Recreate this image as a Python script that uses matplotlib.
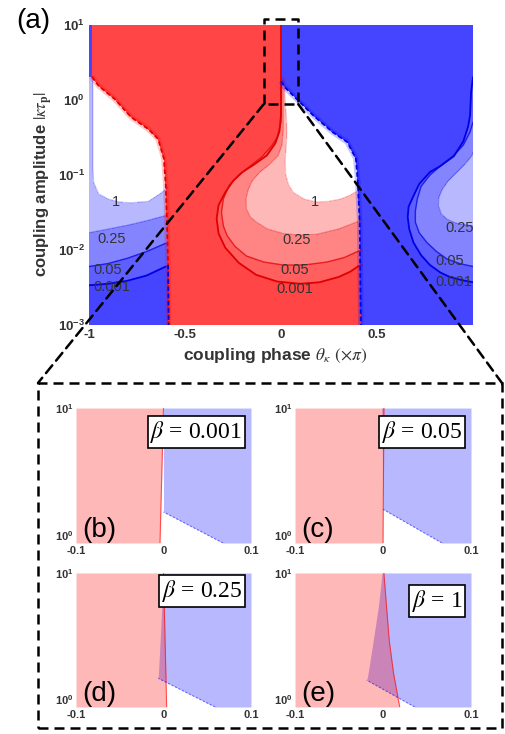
import numpy as np
import matplotlib
matplotlib.use("Agg")
import matplotlib.pyplot as plt
from matplotlib.path import Path
from matplotlib.colors import ListedColormap
from matplotlib.patches import ConnectionPatch, Rectangle

plt.rcParams["font.family"] = ["Liberation Sans", "DejaVu Sans"]
plt.rcParams["axes.unicode_minus"] = False
plt.rcParams["mathtext.fontset"] = "custom"
plt.rcParams["mathtext.rm"] = "Liberation Sans"
plt.rcParams["mathtext.it"] = "Liberation Sans:italic"
plt.rcParams["mathtext.bf"] = "Liberation Sans:bold"

# ---- data (x in units of pi, y given as log10 of coupling amplitude) ----
BETAS = ["0.001", "0.05", "0.25", "1"]

# red/blue domain borders
L_X = [-0.985, -0.95, -0.865, -0.78, -0.69, -0.64, -0.61, -0.60, -0.595, -0.588, -0.585]
L_LOG = [0.31, 0.19, 0.01, -0.23, -0.39, -0.52, -0.78, -1.14, -1.54, -2.2, -3.0]
B_X = [0.0, 0.02, 0.083, 0.17, 0.27, 0.345, 0.39, 0.40, 0.41, 0.416]
B_LOG = [0.25, 0.17, 0.01, -0.21, -0.43, -0.56, -0.78, -1.09, -1.63, -3.0]

# left (blue) pocket contours, one per beta
LEFT_X = [
    [-1.05, -1.0, -0.9, -0.8, -0.7, -0.6],
    [-1.05, -1.0, -0.9, -0.8, -0.7, -0.6],
    [-1.05, -1.0, -0.9, -0.8, -0.7, -0.6],
    [-0.98, -0.98, -0.975, -0.95, -0.9, -0.84, -0.78, -0.69, -0.63, -0.59],
]
LEFT_LOG = [
    [-2.47, -2.47, -2.45, -2.41, -2.34, -2.22],
    [-2.22, -2.22, -2.18, -2.11, -2.02, -1.91],
    [-1.78, -1.77, -1.72, -1.67, -1.61, -1.54],
    [0.31, -0.9, -1.1, -1.25, -1.32, -1.36, -1.37, -1.35, -1.25, -1.17],
]

# middle (red) pocket contours
MID_X = [
    [0.0, 0.0, -0.008, -0.03, -0.074, -0.14, -0.2, -0.25, -0.29, -0.325, -0.335, -0.325,
     -0.29, -0.22, -0.13, -0.02, 0.1, 0.2, 0.3, 0.36, 0.4, 0.42],
    [0.003, 0.0, -0.02, -0.048, -0.1, -0.16, -0.22, -0.27, -0.3, -0.31, -0.3, -0.28,
     -0.24, -0.18, -0.09, 0.012, 0.12, 0.24, 0.33, 0.39, 0.42],
    [0.012, 0.012, 0.005, -0.014, -0.06, -0.11, -0.15, -0.17, -0.182, -0.18, -0.16,
     -0.127, -0.07, 0.012, 0.1, 0.186, 0.3, 0.39, 0.42],
    [0.02, 0.02, 0.03, 0.03, 0.022, 0.025, 0.04, 0.064, 0.12, 0.186, 0.25, 0.31, 0.36,
     0.385, 0.42],
]
MID_LOG = [
    [1.0, -0.2, -0.42, -0.58, -0.74, -0.86, -0.96, -1.08, -1.23, -1.4, -1.58, -1.78,
     -1.97, -2.17, -2.33, -2.42, -2.45, -2.43, -2.36, -2.29, -2.22, -2.2],
    [0.3, -0.3, -0.5, -0.61, -0.76, -0.88, -1.0, -1.14, -1.32, -1.5, -1.68, -1.81,
     -1.95, -2.08, -2.16, -2.2, -2.2, -2.16, -2.1, -2.03, -2.0],
    [0.3, -0.39, -0.6, -0.74, -0.86, -0.96, -1.08, -1.19, -1.32, -1.45, -1.56, -1.63,
     -1.72, -1.78, -1.8, -1.79, -1.72, -1.63, -1.6],
    [0.3, 0.06, -0.3, -0.52, -0.8, -1.0, -1.13, -1.23, -1.32, -1.36, -1.35, -1.32,
     -1.27, -1.23, -1.2],
]

# right (blue) pocket contours (beta = 1 lies outside the plotted range)
RIGHT_X = [
    [1.0, 0.99, 0.985, 0.975, 0.95, 0.9, 0.83, 0.776, 0.72, 0.69, 0.665, 0.66, 0.668,
     0.69, 0.73, 0.776, 0.83, 0.88, 0.94, 1.0],
    [1.0, 0.984, 0.95, 0.9, 0.84, 0.776, 0.73, 0.71, 0.70, 0.70, 0.72, 0.76, 0.81,
     0.865, 0.93, 1.0],
    [1.0, 0.995, 0.96, 0.917, 0.87, 0.84, 0.822, 0.82, 0.835, 0.865, 0.91, 0.95, 1.0],
]
RIGHT_LOG = [
    [0.3, 0.1, -0.2, -0.35, -0.55, -0.75, -0.88, -0.96, -1.12, -1.28, -1.42, -1.56,
     -1.72, -1.9, -2.07, -2.2, -2.3, -2.36, -2.4, -2.43],
    [-0.3, -0.43, -0.6, -0.74, -0.86, -1.0, -1.15, -1.32, -1.48, -1.63, -1.77, -1.9,
     -2.02, -2.12, -2.18, -2.22],
    [-0.7, -0.74, -0.85, -0.96, -1.08, -1.19, -1.3, -1.41, -1.52, -1.59, -1.64, -1.66,
     -1.68],
]

LEFT_LABEL_X = [-0.88, -0.9, -0.88, -0.86]
LEFT_LABEL_LOG = [-2.49, -2.27, -1.85, -1.36]
MID_LABEL_X = [0.073, 0.073, 0.082, 0.177]
MID_LABEL_LOG = [-2.52, -2.27, -1.87, -1.36]
RIGHT_LABEL_X = [0.9, 0.88, 0.93]
RIGHT_LABEL_LOG = [-2.42, -2.15, -1.7]

X_TICKS = [-1, -0.5, 0, 0.5]
X_TICK_LABELS = ["-1", "-0.5", "0", "0.5"]
Y_TICKS = [1e-3, 1e-2, 1e-1, 1e0, 1e1]
Y_TICK_LABELS = [r"$\mathbf{10^{-3}}$", r"$\mathbf{10^{-2}}$", r"$\mathbf{10^{-1}}$",
                 r"$\mathbf{10^{0}}$", r"$\mathbf{10^{1}}$"]

ZOOM_X = (-0.09, 0.09)
ZOOM_Y = (0.88, 12.0)

# zoomed panels (b)-(e): red right edge and blue left edge, log10 y ascending
SUB_TAGS = ["(b)", "(c)", "(d)", "(e)"]
SUB_RED_X = [[-0.004, 0.0], [0.0, 0.001], [0.0036, 0.0],
             [0.019, 0.012, 0.007, 0.004, 0.001]]
SUB_RED_LOG = [[0.0, 1.0], [0.0, 1.0], [0.0, 1.0], [0.0, 0.25, 0.5, 0.75, 1.0]]
SUB_BLUE_X = [[0.068, 0.0, 0.0], [0.067, 0.0, -0.0015], [0.059, -0.006, 0.0],
              [0.036, -0.0185, -0.017, -0.011, -0.0053, -0.001]]
SUB_BLUE_LOG = [[0.0, 0.23, 1.0], [0.0, 0.25, 1.0], [0.0, 0.214, 1.0],
                [0.0, 0.2, 0.25, 0.5, 0.75, 1.0]]
SUB_X_TICKS = [-0.1, 0, 0.1]
SUB_X_TICK_LABELS = ["-0.1", "0", "0.1"]
SUB_Y_TICK_LABELS = [r"$\mathbf{10^{0}}$", r"$\mathbf{10^{1}}$"]

LAYER_ALPHA = 0.28
RED = np.array([1.0, 0.0, 0.0])
BLUE = np.array([0.0, 0.0, 1.0])
TEXT_COLOR = "#333333"
DASH = (0, (4, 2.4))


def layered(base, n):
    keep = (1 - LAYER_ALPHA) ** n
    return base * (1 - keep) + keep


fig = plt.figure(figsize=(5.05, 7.34), dpi=100)
ax = fig.add_axes([0.1762, 0.5572, 0.7604, 0.4087])

# ---- rasterised layer count on a (x, log10 y) grid ----
nx, ny = 768, 600
xe = np.linspace(-1, 1, nx + 1)
le = np.linspace(-3, 1, ny + 1)
xc = 0.5 * (xe[1:] + xe[:-1])
lc = 0.5 * (le[1:] + le[:-1])
XX, LL = np.meshgrid(xc, lc)
pts = np.column_stack([XX.ravel(), LL.ravel()])


def inside(xs, ls):
    return Path(np.column_stack([xs, ls])).contains_points(pts).reshape(XX.shape)


red_x = [L_X[0]] + L_X + [L_X[-1], B_X[-1]] + B_X[::-1] + [B_X[0]]
red_l = [1.2] + L_LOG + [-3.2, -3.2] + B_LOG[::-1] + [1.2]
red = inside(red_x, red_l)

count = np.zeros(XX.shape, dtype=int)
for k in range(4):
    lx, ll = LEFT_X[k], LEFT_LOG[k]
    hole_blue = inside(lx + [-0.5, -0.5, lx[0]], ll + [ll[-1], 0.31, 0.31])
    if k < len(RIGHT_X):
        rx, rl = RIGHT_X[k], RIGHT_LOG[k]
        hole_blue |= inside(rx + [1.1, 1.1], rl + [rl[-1], rl[0]])
    mx, ml = MID_X[k], MID_LOG[k]
    hole_red = inside(mx + [0.6, 0.6, mx[0]], ml + [ml[-1], 1.2, 1.2])
    hole = (hole_red & red) | (hole_blue & ~red)
    count += ~hole

index = np.where(red, count, -count) + 4
colors = [layered(BLUE, 4 - i) for i in range(4)] + [np.ones(3)] + \
         [layered(RED, i) for i in range(1, 5)]
ax.pcolormesh(xe, 10 ** le, index, cmap=ListedColormap(colors),
              vmin=-0.5, vmax=8.5, shading="flat")

# ---- contour lines ----
line_lw = [1.3, 1.0, 0.8, 0.8]
line_alpha = [1.0, 0.75, 0.35, 0.25]
for k in range(4):
    ax.plot(LEFT_X[k], 10 ** np.array(LEFT_LOG[k]), color="#0000e0",
            lw=line_lw[k], alpha=line_alpha[k])
    ax.plot(MID_X[k], 10 ** np.array(MID_LOG[k]), color="#e00000",
            lw=line_lw[k], alpha=line_alpha[k])
    if k < len(RIGHT_X):
        ax.plot(RIGHT_X[k], 10 ** np.array(RIGHT_LOG[k]), color="#0000e0",
                lw=line_lw[k], alpha=line_alpha[k])

L_Y = 10 ** np.array(L_LOG)
B_Y = 10 ** np.array(B_LOG)
ax.plot(L_X, L_Y, color="red", lw=4, alpha=0.22, solid_capstyle="butt")
ax.plot(B_X, B_Y, color="blue", lw=4, alpha=0.22, solid_capstyle="butt")
ax.plot(L_X, L_Y, color="#e00000", lw=1.3, ls=(0, (2.5, 1.5)))
low = np.array(L_LOG) <= -2.2
ax.plot(np.array(L_X)[low], L_Y[low], color="#0000e0", lw=1.3, ls=(0, (2.5, 1.5)))
ax.plot(B_X, B_Y, color="#0000e0", lw=1.3, ls=(0, (2.5, 1.5)))

for k in range(4):
    ax.text(LEFT_LABEL_X[k], 10 ** LEFT_LABEL_LOG[k], BETAS[k], ha="center",
            va="center", fontsize=10.5, color=TEXT_COLOR)
    ax.text(MID_LABEL_X[k], 10 ** MID_LABEL_LOG[k], BETAS[k], ha="center",
            va="center", fontsize=10.5, color=TEXT_COLOR)
for k in range(len(RIGHT_LABEL_X)):
    ax.text(RIGHT_LABEL_X[k], 10 ** RIGHT_LABEL_LOG[k], BETAS[k], ha="center",
            va="center", fontsize=10.5, color=TEXT_COLOR, clip_on=True)

ax.set_yscale("log")
ax.set_xlim(-1, 1)
ax.set_ylim(1e-3, 1e1)
ax.minorticks_off()
ax.set_xticks(X_TICKS, X_TICK_LABELS, fontsize=9.5, fontweight="bold", color=TEXT_COLOR)
ax.set_yticks(Y_TICKS, Y_TICK_LABELS, fontsize=9.5, color=TEXT_COLOR)
ax.tick_params(length=0, pad=3)
for s in ax.spines.values():
    s.set_visible(False)
ax.set_xlabel(r"coupling phase $\theta_{\kappa}$ $(\times\pi)$", fontsize=12.5,
              fontweight="bold", color=TEXT_COLOR, math_fontfamily="stix", ha="left")
ax.set_ylabel(r"coupling amplitude $|\kappa\tau_{\mathbf{p}}|$", fontsize=12,
              fontweight="bold", color=TEXT_COLOR, math_fontfamily="stix", ha="left")
ax.xaxis.set_label_coords(0.245, -0.073)
ax.yaxis.set_label_coords(-0.088, 0.16)
fig.text(0.065, 0.972, "(a)", ha="center", va="center", fontsize=20)

# zoom marker and connectors
zx0, zx1 = ZOOM_X
zy0, zy1 = ZOOM_Y
ax.plot([zx0, zx0, zx1, zx1, zx0], [zy0, zy1, zy1, zy0, zy0], color="black",
        lw=1.8, ls=DASH, clip_on=False, zorder=5)
box = (0.0752, 0.0082, 0.9188, 0.47)
fig.add_artist(Rectangle(box[:2], box[2], box[3], transform=fig.transFigure,
                         fill=False, lw=1.8, ls=DASH, color="black"))
for xa, xb in [(zx0, box[0]), (zx1, box[0] + box[2])]:
    fig.add_artist(ConnectionPatch(xyA=(xa, zy0), coordsA=ax.transData,
                                   xyB=(xb, box[1] + box[3]), coordsB=fig.transFigure,
                                   color="black", lw=1.8, ls=DASH))

# ---- zoomed panels ----
sub_pos = [[0.1505, 0.2602, 0.3465, 0.1839], [0.5842, 0.2602, 0.3485, 0.1839],
           [0.1505, 0.0368, 0.3465, 0.1826], [0.5842, 0.0368, 0.3485, 0.1826]]
box_y = [0.82, 0.82, 0.865, 0.79]
for k in range(4):
    sa = fig.add_axes(sub_pos[k])
    ry = 10 ** np.array(SUB_RED_LOG[k])
    by = 10 ** np.array(SUB_BLUE_LOG[k])
    sa.fill_betweenx(by, SUB_BLUE_X[k], 0.1, color=BLUE, alpha=LAYER_ALPHA, lw=0)
    sa.fill_betweenx(ry, -0.1, SUB_RED_X[k], color=RED, alpha=LAYER_ALPHA, lw=0)
    sa.plot(SUB_RED_X[k], ry, color="red", lw=0.8, alpha=0.6)
    sa.plot(SUB_BLUE_X[k][:2], by[:2], color="blue", lw=0.8, alpha=0.5,
            ls=(0, (2, 1.5)))
    sa.set_yscale("log")
    sa.set_xlim(-0.1, 0.1)
    sa.set_ylim(1, 10)
    sa.minorticks_off()
    sa.set_xticks(SUB_X_TICKS, SUB_X_TICK_LABELS, fontsize=8, fontweight="bold",
                  color=TEXT_COLOR)
    sa.set_yticks([1, 10], SUB_Y_TICK_LABELS, fontsize=8, color=TEXT_COLOR)
    sa.get_yticklabels()[0].set_verticalalignment("bottom")
    sa.tick_params(length=0, pad=2)
    for s in sa.spines.values():
        s.set_visible(False)
    sa.text(0.035, 0.0, SUB_TAGS[k], transform=sa.transAxes, ha="left",
            va="bottom", fontsize=20)
    sa.text(0.95, box_y[k], r"$\beta$ = " + BETAS[k], transform=sa.transAxes,
            ha="right", va="center", fontsize=17, math_fontfamily="stix",
            family="Liberation Serif",
            bbox=dict(boxstyle="square,pad=0.12", fc="white", ec="black", lw=1.2))

fig.savefig("out.png", dpi=100)
